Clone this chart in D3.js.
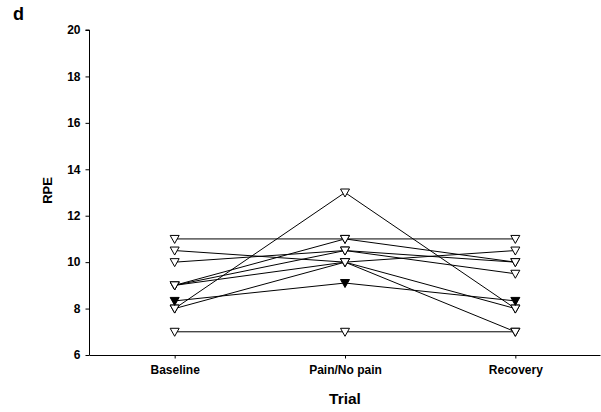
<!DOCTYPE html>
<html><head><meta charset="utf-8">
<script src="https://cdn.jsdelivr.net/npm/d3@7"></script>
<style>html,body{margin:0;padding:0;background:#fff;}</style>
</head><body>
<script>
const categories = ["Baseline", "Pain/No pain", "Recovery"];
const yTicks = [6, 8, 10, 12, 14, 16, 18, 20];
// open symbols: individual participants
const subjects = [
  [11, 11, 11],
  [9, 11, 10],
  [10, 10.5, 10],
  [9, 10.5, 9.5],
  [10.5, 10, 10.5],
  [9, 10, 8],
  [8, 10, 7],
  [8, 13, 8],
  [7, 7, 7]
];
// filled symbol series
const filled = [8.33, 9.1, 8.33];

const W = 601, H = 412;
const svg = d3.select("body").append("svg").attr("width", W).attr("height", H)
  .style("font-family", "'Liberation Sans', Arial, sans-serif");

const x = d3.scaleLinear().domain([0.5, 3.5]).range([89.5, 600.5]);
const y = d3.scaleLinear().domain([6, 20]).range([355, 30]);

// axes
const yAxis = d3.axisLeft(y).tickValues(yTicks).tickSize(4).tickPadding(5);
const gy = svg.append("g").attr("transform", "translate(89.5,0)").call(yAxis);
gy.select(".domain").attr("d", `M-4,${y(20)}H0V${y(6)}`);
gy.selectAll("text").attr("font-size", 12).attr("font-weight", "bold").attr("font-family", "'Liberation Sans', Arial, sans-serif");

const xAxis = d3.axisBottom(x).tickValues([1, 2, 3]).tickFormat((d, i) => categories[i]).tickSize(3).tickPadding(7);
const gx = svg.append("g").attr("transform", `translate(0,${y(6) + 0.5})`).call(xAxis);
gx.select(".domain").attr("d", `M${x(0.5)},0H${x(3.5)}`);
gx.selectAll("text").attr("font-size", 12).attr("font-weight", "bold").attr("font-family", "'Liberation Sans', Arial, sans-serif");

// lines
const line = d3.line().x((d, i) => x(i + 1)).y(d => y(d));
const all = subjects.map(s => ({v: s, f: false})).concat([{v: filled, f: true}]);
svg.append("g").selectAll("path").data(all).join("path")
  .attr("d", d => line(d.v)).attr("fill", "none").attr("stroke", "#000").attr("stroke-width", 1);

// markers: downward triangles
const tri = "M-4.5,-3.5L4.5,-3.5L0,4.5Z";
all.forEach(s => {
  svg.append("g").selectAll("path").data(s.v).join("path")
    .attr("d", tri)
    .attr("transform", (d, i) => `translate(${x(i + 1)},${y(d)})`)
    .attr("fill", s.f ? "#000" : "#fff").attr("stroke", "#000").attr("stroke-width", 1);
});

// labels
svg.append("text").attr("x", x(2)).attr("y", 404).attr("text-anchor", "middle")
  .attr("font-size", 15.5).attr("font-weight", "bold").text("Trial");
svg.append("text").attr("transform", `translate(52,${(y(20) + y(6)) / 2 - 2}) rotate(-90)`)
  .attr("text-anchor", "middle").attr("font-size", 13).attr("font-weight", "bold").text("RPE");
svg.append("text").attr("x", 13).attr("y", 19.5).attr("font-size", 18).attr("font-weight", "bold").text("d");
</script>
</body></html>
